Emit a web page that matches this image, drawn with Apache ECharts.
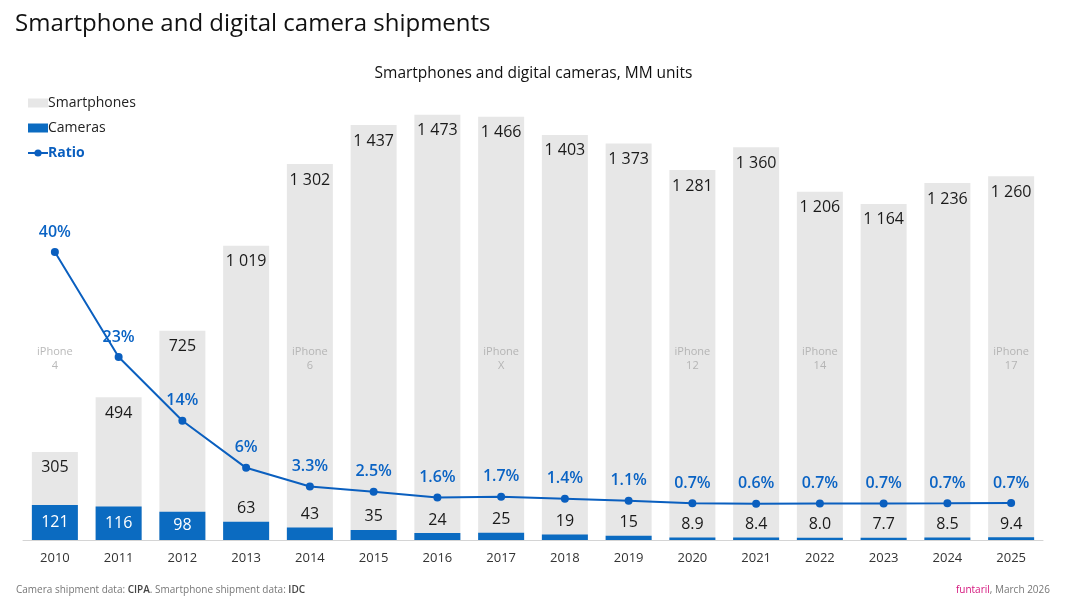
<!DOCTYPE html>
<html><head><meta charset="utf-8">
<script src="https://cdn.jsdelivr.net/npm/echarts@6/dist/echarts.min.js"></script>
<style>html,body{margin:0;padding:0;background:#fff}#c{width:1067px;height:600px}</style>
</head><body><div id="c"></div>
<script>
const years = ['2010','2011','2012','2013','2014','2015','2016','2017','2018','2019','2020','2021','2022','2023','2024','2025'];
const smartphones = [305,494,725,1019,1302,1437,1473,1466,1403,1373,1281,1360,1206,1164,1236,1260];
const cameras = [121,116,98,63,43,35,24,25,19,15,8.9,8.4,8.0,7.7,8.5,9.4];
const ratioPct = [39.7,23.4,13.5,6.2,3.3,2.5,1.6,1.7,1.4,1.1,0.69,0.62,0.66,0.66,0.69,0.73];
const iphoneYears = ['2010','2014','2017','2020','2022','2025'];
const iphoneNames = ['4','6','X','12','14','17'];
const iphoneLevel = 627;

const FONT = 'Open Sans';
const chart = echarts.init(document.getElementById('c'), null, {renderer:'canvas'});
const fmtThousands = v => String(v).replace(/\B(?=(\d{3})+(?!\d))/g, ' ');
const camData = cameras.map(v => v > 80
  ? {value: v, label: {position: 'inside', color: '#ffffff'}}
  : {value: v});
chart.setOption({
  animation: false,
  textStyle: {fontFamily: FONT},
  title: [
    {text: 'Smartphone and digital camera shipments', left: 10, top: 7,
     textStyle: {fontSize: 24, fontWeight: 500, color: '#111', fontFamily: FONT}},
    {text: 'Smartphones and digital cameras, MM units', left: 'center', top: 61,
     textStyle: {fontSize: 15.5, fontWeight: 500, color: '#111', fontFamily: FONT}},
    {text: '{n|Camera shipment data: }{b|CIPA}{n|. Smartphone shipment data: }{b|IDC}', left: 11, top: 580,
     textStyle: {fontWeight: 'normal', rich: {n: {fontSize: 10, fontWeight: 'normal', color: '#777', fontFamily: FONT}, b: {fontSize: 10, fontWeight: 600, color: '#444', fontFamily: FONT}}}},
    {text: '{p|funtaril}{n|, March 2026}', right: 12, top: 580,
     textStyle: {fontWeight: 'normal', rich: {p: {fontSize: 10, fontWeight: 'normal', color: '#d4147c', fontFamily: FONT}, n: {fontSize: 10, fontWeight: 'normal', color: '#777', fontFamily: FONT}}}}
  ],
  legend: {
    orient: 'vertical', left: 22, top: 91, itemGap: 11, itemWidth: 20, itemHeight: 9,
    textStyle: {fontSize: 14, color: '#222', fontFamily: FONT, padding: [0,0,0,-5]},
    data: [
      {name: 'Smartphones', icon: 'rect'},
      {name: 'Cameras', icon: 'rect'},
      {name: 'Ratio', textStyle: {color: '#0a5fbf', fontWeight: 'bold'}}
    ]
  },
  grid: {left: 23, right: 24, top: 78, bottom: 60},
  xAxis: {
    type: 'category', data: years,
    axisTick: {show: false},
    axisLine: {lineStyle: {color: '#d4d4d4', width: 1}},
    axisLabel: {color: '#333', fontSize: 13, margin: 12, fontFamily: FONT}
  },
  yAxis: [
    {type: 'value', min: 0, max: 1600, show: false, splitLine: {show: false}},
    {type: 'value', min: -5, max: 66.7, show: false, splitLine: {show: false}}
  ],
  series: [
    {name: 'Smartphones', type: 'bar', data: smartphones, barWidth: 46,
     itemStyle: {color: '#e7e7e7'},
     label: {show: true, position: 'insideTop', distance: 8, fontSize: 16, color: '#1a1a1a',
             fontFamily: FONT, formatter: p => fmtThousands(p.value)}},
    {name: 'Cameras', type: 'bar', data: camData, barWidth: 46, barGap: '-100%',
     itemStyle: {color: '#0b6bc1'},
     label: {show: true, position: 'top', distance: 5, fontSize: 16, color: '#1a1a1a',
             fontFamily: FONT, formatter: p => p.value < 10 ? p.value.toFixed(1) : String(p.value)}},
    {name: 'Ratio', type: 'line', yAxisIndex: 1, data: ratioPct,
     symbol: 'circle', symbolSize: 8,
     lineStyle: {color: '#0a5fbf', width: 2}, itemStyle: {color: '#0a5fbf'},
     label: {show: true, position: 'top', distance: 8, fontSize: 16, fontWeight: 600, color: '#0a63c4',
             fontFamily: FONT, formatter: p => p.value >= 5 ? Math.round(p.value) + '%' : p.value.toFixed(1) + '%'},
     z: 5},
    {name: 'iPhone', type: 'scatter', symbolSize: 0,
     data: iphoneYears.map((y, i) => ({value: [y, iphoneLevel], name: iphoneNames[i]})),
     label: {show: true, position: 'inside', fontSize: 11, color: '#a8a8a8', lineHeight: 14,
             fontFamily: FONT, formatter: p => 'iPhone\n' + p.name},
     silent: true, z: 3}
  ]
});
</script></body></html>
